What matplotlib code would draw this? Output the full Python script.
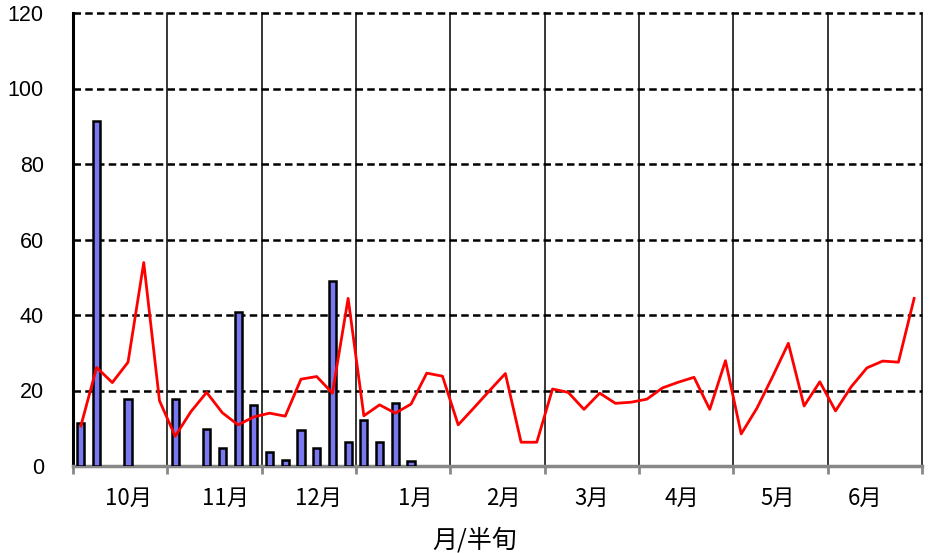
import numpy as np
import matplotlib.pyplot as plt

plt.rcParams['font.family'] = ['Liberation Sans', 'Noto Sans CJK JP', 'DejaVu Sans']

months = ['10月', '11月', '12月', '1月', '2月', '3月', '4月', '5月', '6月']

# catch per half-decade (bars), 6 per month starting with early October
catch = [11.3, 91.5, 0, 17.7, 0, 0,
         17.7, 0, 9.7, 4.7, 40.7, 16.2,
         3.7, 1.7, 9.5, 4.7, 49.1, 6.3,
         12.2, 6.3, 16.8, 1.3, 0, 0] + [0] * 30

# average-year line
normal = [10.6, 26.1, 22.1, 27.5, 53.9, 17.3,
          7.9, 14.4, 19.5, 14.1, 10.9, 13.0,
          14.0, 13.2, 23.0, 23.7, 19.3, 44.4,
          13.3, 16.2, 14.0, 16.4, 24.6, 23.8,
          10.9, 15.4, 20.0, 24.5, 6.3, 6.3,
          20.4, 19.5, 15.0, 19.3, 16.6, 16.9,
          17.7, 20.7, 22.2, 23.5, 15.0, 27.9,
          8.5, 15.3, 23.7, 32.5, 15.9, 22.3,
          14.6, 21.0, 26.0, 27.8, 27.5, 44.4]

x = np.arange(len(normal)) + 0.5
label_pos = [3.5, 9.7, 15.6, 21.8, 27.4, 33.0, 38.7, 44.8, 50.4]

fig = plt.figure(figsize=(9.3, 5.53), dpi=100)
ax = fig.add_axes([73 / 930, 1 - 466 / 553, 849 / 930, 453 / 553])

bx = [xi for xi, c in zip(x, catch) if c > 0]
bh = [c for c in catch if c > 0]
ax.bar(bx, bh, width=0.45, color='#7878f0', edgecolor='black', linewidth=1.8, zorder=3)
ax.plot(x, normal, color='#ff0000', linewidth=2, zorder=4)

ax.set_xlim(0, 54)
ax.set_ylim(0, 120)
ax.set_yticks(range(0, 121, 20))
ax.tick_params(axis='y', length=0, pad=21, labelsize=15.5)

ax.set_xticks(range(0, 55, 6))
ax.set_xticklabels([])
ax.tick_params(axis='x', which='major', length=6, width=2, color='#888888', direction='out')
ax.set_xticks(label_pos, minor=True)
ax.set_xticklabels(months, minor=True, fontsize=16, family=['Noto Sans CJK JP'])
ax.tick_params(axis='x', which='minor', length=0, pad=15)

for m in range(6, 55, 6):
    ax.axvline(m, color='black', linewidth=1.1, zorder=1, clip_on=False)
for v in range(20, 121, 20):
    ax.axhline(v, color='black', linewidth=1.8, linestyle=(0, (3, 1.7)), zorder=2, clip_on=False)

ax.spines['top'].set_visible(False)
ax.spines['right'].set_visible(False)
ax.spines['left'].set_linewidth(2.2)
ax.spines['bottom'].set_color('#888888')
ax.spines['bottom'].set_linewidth(2.5)

fig.text(475 / 930, 1 - 541 / 553, '月/半旬', ha='center', va='center', fontsize=18,
         family=['Noto Sans CJK JP'])

fig.savefig('out.png', dpi=100)
